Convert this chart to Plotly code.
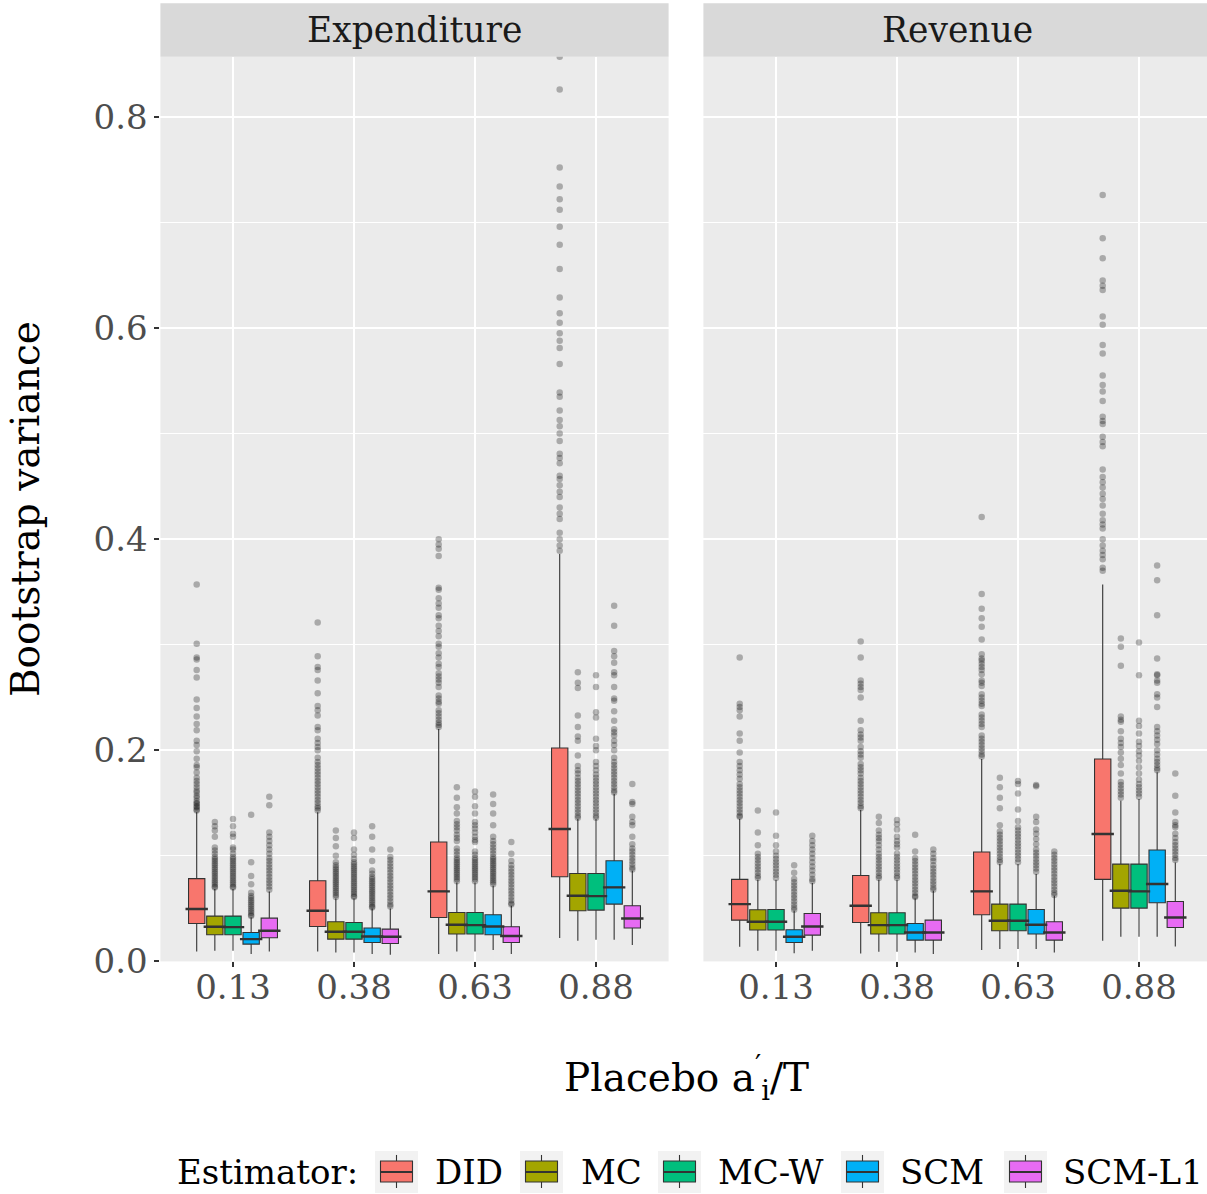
import plotly.graph_objects as go

# ---------------- data ----------------
categories = ["0.13", "0.38", "0.63", "0.88"]
estimators = ["DID", "MC", "MC-W", "SCM", "SCM-L1"]
colors = ["#F8766D", "#A3A500", "#00BF7D", "#00B0F6", "#E76BF3"]
panels = ["Expenditure", "Revenue"]

# rows = estimators, cols = categories
exp_q1 = [[0.0359, 0.0331, 0.0416, 0.0802],
          [0.0252, 0.0211, 0.0259, 0.0480],
          [0.0252, 0.0211, 0.0259, 0.0486],
          [0.0164, 0.0179, 0.0252, 0.0543],
          [0.0224, 0.0170, 0.0179, 0.0316]]
exp_med = [[0.0496, 0.0480, 0.0663, 0.1254],
           [0.0328, 0.0281, 0.0347, 0.0622],
           [0.0325, 0.0281, 0.0344, 0.0618],
           [0.0211, 0.0236, 0.0331, 0.0701],
           [0.0290, 0.0233, 0.0240, 0.0407]]
exp_q3 = [[0.0784, 0.0764, 0.1131, 0.2022],
          [0.0429, 0.0375, 0.0464, 0.0833],
          [0.0429, 0.0369, 0.0464, 0.0833],
          [0.0274, 0.0316, 0.0442, 0.0954],
          [0.0410, 0.0306, 0.0328, 0.0527]]
exp_lo = [[0.0094, 0.0094, 0.0069, 0.0221],
          [0.0100, 0.0084, 0.0094, 0.0195],
          [0.0100, 0.0084, 0.0094, 0.0205],
          [0.0069, 0.0069, 0.0107, 0.0205],
          [0.0094, 0.0063, 0.0069, 0.0155]]
exp_hi = [[0.1412, 0.1412, 0.2202, 0.3860],
          [0.0685, 0.0596, 0.0748, 0.1349],
          [0.0685, 0.0596, 0.0748, 0.1349],
          [0.0416, 0.0502, 0.0717, 0.1586],
          [0.0663, 0.0502, 0.0527, 0.0859]]

rev_q1 = [[0.0391, 0.0369, 0.0442, 0.0777],
          [0.0297, 0.0259, 0.0290, 0.0505],
          [0.0297, 0.0259, 0.0290, 0.0505],
          [0.0179, 0.0202, 0.0259, 0.0555],
          [0.0249, 0.0202, 0.0202, 0.0321]]
rev_med = [[0.0543, 0.0527, 0.0663, 0.1207],
           [0.0375, 0.0344, 0.0385, 0.0669],
           [0.0375, 0.0344, 0.0385, 0.0663],
           [0.0233, 0.0274, 0.0347, 0.0733],
           [0.0331, 0.0274, 0.0274, 0.0416]]
rev_q3 = [[0.0777, 0.0814, 0.1036, 0.1918],
          [0.0489, 0.0461, 0.0543, 0.0922],
          [0.0492, 0.0461, 0.0543, 0.0922],
          [0.0300, 0.0359, 0.0492, 0.1055],
          [0.0454, 0.0391, 0.0375, 0.0568]]
rev_lo = [[0.0138, 0.0075, 0.0107, 0.0195],
          [0.0100, 0.0091, 0.0117, 0.0233],
          [0.0100, 0.0091, 0.0117, 0.0233],
          [0.0078, 0.0084, 0.0117, 0.0233],
          [0.0100, 0.0069, 0.0084, 0.0141]]
rev_hi = [[0.1349, 0.1434, 0.1918, 0.3570],
          [0.0774, 0.0774, 0.0922, 0.1523],
          [0.0774, 0.0774, 0.0922, 0.1539],
          [0.0480, 0.0596, 0.0828, 0.1791],
          [0.0742, 0.0669, 0.0622, 0.0938]]

# outliers: per estimator, per category
exp_out_did = [
    [0.357, 0.301, 0.288, 0.286, 0.276, 0.269, 0.248, 0.240, 0.232, 0.225, 0.219, 0.209, 0.205, 0.199, 0.192, 0.186, 0.184,
     0.179, 0.174, 0.171, 0.168, 0.165, 0.162, 0.160, 0.157, 0.155, 0.152, 0.150, 0.149, 0.147, 0.146, 0.144, 0.143],
    [0.321, 0.289, 0.279, 0.276, 0.266, 0.254, 0.242, 0.238, 0.233, 0.222, 0.219, 0.211, 0.207, 0.203, 0.200, 0.193, 0.189,
     0.186, 0.183, 0.180, 0.177, 0.174, 0.171, 0.168, 0.165, 0.162, 0.159, 0.156, 0.153, 0.150, 0.147, 0.145, 0.143],
    [0.400, 0.395, 0.391, 0.384, 0.354, 0.352, 0.344, 0.339, 0.335, 0.328, 0.325, 0.318, 0.313, 0.308, 0.301, 0.298, 0.292,
     0.288, 0.282, 0.279, 0.273, 0.270, 0.267, 0.264, 0.260, 0.252, 0.249, 0.246, 0.244, 0.238, 0.235, 0.232, 0.229, 0.226,
     0.224, 0.222],
    [0.857, 0.826, 0.752, 0.734, 0.722, 0.712, 0.696, 0.679, 0.656, 0.629, 0.614, 0.605, 0.595, 0.588, 0.581, 0.566, 0.539,
     0.535, 0.522, 0.513, 0.507, 0.500, 0.493, 0.481, 0.477, 0.472, 0.460, 0.457, 0.451, 0.445, 0.440, 0.430, 0.424, 0.419,
     0.406, 0.400, 0.394, 0.389]]
exp_out_mc = [
    [0.132, 0.128, 0.124, 0.118, 0.108, 0.105, 0.102, 0.099, 0.097, 0.095, 0.093, 0.091, 0.089, 0.087, 0.085, 0.083, 0.081,
     0.079, 0.077, 0.075, 0.073, 0.071, 0.070],
    [0.124, 0.117, 0.109, 0.100, 0.094, 0.091, 0.089, 0.087, 0.085, 0.083, 0.081, 0.079, 0.077, 0.075, 0.073, 0.071, 0.069,
     0.067, 0.065, 0.063, 0.061],
    [0.165, 0.155, 0.146, 0.140, 0.133, 0.130, 0.127, 0.124, 0.120, 0.117, 0.114, 0.107, 0.104, 0.101, 0.098, 0.096, 0.094,
     0.092, 0.090, 0.088, 0.086, 0.084, 0.082, 0.080, 0.078, 0.076],
    [0.274, 0.264, 0.259, 0.233, 0.222, 0.213, 0.209, 0.195, 0.185, 0.181, 0.178, 0.174, 0.171, 0.168, 0.165, 0.162, 0.159,
     0.156, 0.153, 0.150, 0.147, 0.144, 0.141, 0.138, 0.136]]
exp_out_mcw = [
    [0.135, 0.128, 0.121, 0.118, 0.108, 0.106, 0.102, 0.099, 0.097, 0.095, 0.093, 0.091, 0.089, 0.087, 0.085, 0.083, 0.081,
     0.079, 0.077, 0.075, 0.073, 0.071, 0.070],
    [0.122, 0.117, 0.106, 0.101, 0.097, 0.094, 0.092, 0.090, 0.088, 0.086, 0.084, 0.082, 0.080, 0.078, 0.076, 0.074, 0.072,
     0.070, 0.068, 0.066, 0.064, 0.062, 0.061],
    [0.161, 0.156, 0.147, 0.140, 0.132, 0.129, 0.126, 0.122, 0.118, 0.115, 0.113, 0.104, 0.101, 0.098, 0.096, 0.094, 0.092,
     0.090, 0.088, 0.086, 0.084, 0.082, 0.080, 0.078, 0.076],
    [0.271, 0.260, 0.236, 0.231, 0.211, 0.204, 0.200, 0.189, 0.185, 0.181, 0.177, 0.174, 0.171, 0.168, 0.165, 0.162, 0.159,
     0.156, 0.153, 0.150, 0.147, 0.144, 0.141, 0.138, 0.136]]
exp_out_scm = [
    [0.139, 0.094, 0.081, 0.073, 0.065, 0.062, 0.060, 0.058, 0.056, 0.054, 0.052, 0.050, 0.048, 0.046, 0.044, 0.043],
    [0.128, 0.118, 0.106, 0.095, 0.086, 0.083, 0.080, 0.078, 0.076, 0.074, 0.072, 0.070, 0.068, 0.066, 0.064, 0.062, 0.060,
     0.058, 0.056, 0.054, 0.052, 0.051],
    [0.158, 0.149, 0.140, 0.129, 0.118, 0.114, 0.111, 0.108, 0.105, 0.102, 0.099, 0.097, 0.095, 0.093, 0.091, 0.089, 0.087,
     0.085, 0.083, 0.081, 0.079, 0.077, 0.075, 0.073],
    [0.337, 0.318, 0.294, 0.289, 0.283, 0.274, 0.271, 0.260, 0.249, 0.247, 0.237, 0.228, 0.220, 0.217, 0.214, 0.209, 0.205,
     0.200, 0.193, 0.189, 0.186, 0.183, 0.180, 0.177, 0.174, 0.171, 0.168, 0.165, 0.162, 0.160]]
exp_out_scml1 = [
    [0.156, 0.148, 0.122, 0.118, 0.114, 0.110, 0.106, 0.102, 0.098, 0.095, 0.092, 0.089, 0.086, 0.083, 0.080, 0.077, 0.074,
     0.071, 0.068],
    [0.106, 0.099, 0.096, 0.093, 0.090, 0.087, 0.084, 0.081, 0.078, 0.075, 0.072, 0.069, 0.066, 0.063, 0.060, 0.057, 0.054,
     0.052],
    [0.113, 0.102, 0.095, 0.091, 0.088, 0.085, 0.082, 0.079, 0.076, 0.073, 0.070, 0.067, 0.064, 0.061, 0.058, 0.055, 0.054],
    [0.168, 0.151, 0.149, 0.137, 0.132, 0.129, 0.118, 0.111, 0.107, 0.104, 0.101, 0.098, 0.095, 0.092, 0.089, 0.087]]

rev_out_did = [
    [0.288, 0.244, 0.241, 0.238, 0.232, 0.216, 0.209, 0.198, 0.189, 0.185, 0.181, 0.177, 0.173, 0.168, 0.165, 0.162, 0.159,
     0.156, 0.153, 0.150, 0.147, 0.144, 0.141, 0.138, 0.137],
    [0.303, 0.288, 0.266, 0.263, 0.260, 0.257, 0.250, 0.228, 0.219, 0.215, 0.212, 0.209, 0.203, 0.199, 0.196, 0.193, 0.187,
     0.184, 0.181, 0.178, 0.174, 0.171, 0.168, 0.165, 0.162, 0.159, 0.156, 0.153, 0.150, 0.147, 0.145],
    [0.421, 0.348, 0.334, 0.325, 0.317, 0.305, 0.291, 0.287, 0.285, 0.282, 0.279, 0.276, 0.272, 0.266, 0.264, 0.261, 0.253,
     0.250, 0.247, 0.244, 0.242, 0.234, 0.231, 0.228, 0.225, 0.222, 0.214, 0.211, 0.208, 0.205, 0.202, 0.199, 0.196, 0.194],
    [0.726, 0.685, 0.666, 0.645, 0.640, 0.636, 0.611, 0.603, 0.584, 0.576, 0.555, 0.546, 0.540, 0.531, 0.516, 0.512, 0.509,
     0.497, 0.492, 0.488, 0.466, 0.459, 0.454, 0.449, 0.443, 0.438, 0.432, 0.424, 0.418, 0.414, 0.410, 0.400, 0.394, 0.389,
     0.385, 0.381, 0.373, 0.370]]
rev_out_mc = [
    [0.143, 0.122, 0.110, 0.102, 0.099, 0.096, 0.093, 0.090, 0.087, 0.084, 0.081, 0.079],
    [0.137, 0.131, 0.124, 0.120, 0.117, 0.114, 0.110, 0.106, 0.102, 0.099, 0.096, 0.093, 0.090, 0.087, 0.084, 0.081, 0.079],
    [0.174, 0.165, 0.155, 0.145, 0.129, 0.123, 0.120, 0.117, 0.114, 0.111, 0.108, 0.105, 0.102, 0.099, 0.096, 0.094],
    [0.306, 0.298, 0.280, 0.232, 0.229, 0.227, 0.218, 0.211, 0.207, 0.203, 0.198, 0.192, 0.186, 0.178, 0.170, 0.167, 0.164,
     0.161, 0.158, 0.155]]
rev_out_mcw = [
    [0.141, 0.119, 0.110, 0.104, 0.100, 0.097, 0.094, 0.091, 0.088, 0.085, 0.082, 0.079],
    [0.134, 0.130, 0.125, 0.118, 0.114, 0.111, 0.108, 0.102, 0.099, 0.096, 0.093, 0.090, 0.087, 0.084, 0.081, 0.079],
    [0.171, 0.168, 0.159, 0.144, 0.133, 0.127, 0.124, 0.121, 0.118, 0.115, 0.112, 0.109, 0.106, 0.103, 0.100, 0.097, 0.094],
    [0.302, 0.271, 0.228, 0.223, 0.216, 0.208, 0.204, 0.199, 0.195, 0.190, 0.184, 0.178, 0.172, 0.168, 0.165, 0.162, 0.159,
     0.156]]
rev_out_scm = [
    [0.091, 0.084, 0.078, 0.075, 0.072, 0.069, 0.066, 0.063, 0.060, 0.057, 0.054, 0.051, 0.049],
    [0.120, 0.104, 0.098, 0.095, 0.092, 0.089, 0.086, 0.083, 0.080, 0.077, 0.074, 0.071, 0.068, 0.065, 0.062, 0.061],
    [0.167, 0.166, 0.137, 0.132, 0.125, 0.121, 0.116, 0.111, 0.106, 0.103, 0.100, 0.097, 0.094, 0.091, 0.088, 0.085],
    [0.375, 0.361, 0.328, 0.287, 0.272, 0.271, 0.266, 0.264, 0.253, 0.250, 0.241, 0.222, 0.218, 0.214, 0.210, 0.206, 0.200,
     0.196, 0.192, 0.189, 0.186, 0.183, 0.181]]
rev_out_scml1 = [
    [0.119, 0.114, 0.110, 0.106, 0.102, 0.098, 0.094, 0.090, 0.086, 0.082, 0.078, 0.076],
    [0.106, 0.102, 0.098, 0.095, 0.091, 0.088, 0.085, 0.082, 0.079, 0.076, 0.073, 0.070, 0.068],
    [0.104, 0.101, 0.098, 0.095, 0.092, 0.089, 0.086, 0.083, 0.080, 0.077, 0.074, 0.071, 0.068, 0.065, 0.063],
    [0.178, 0.157, 0.141, 0.132, 0.129, 0.127, 0.121, 0.117, 0.113, 0.110, 0.107, 0.104, 0.101, 0.098, 0.096]]

# ---------------- figure ----------------
FONT = "DejaVu Serif"
W, H = 1207, 1194          # target picture size (layout coordinates below)
FIG_H = 1215               # page is photographed slightly squeezed vertically
SLOT = 0.15
BOXW = 0.135

panel_stats = [
    (exp_q1, exp_med, exp_q3, exp_lo, exp_hi,
     [exp_out_did, exp_out_mc, exp_out_mcw, exp_out_scm, exp_out_scml1]),
    (rev_q1, rev_med, rev_q3, rev_lo, rev_hi,
     [rev_out_did, rev_out_mc, rev_out_mcw, rev_out_scm, rev_out_scml1]),
]

fig = go.Figure()
cat_idx = list(range(len(categories)))

for p, (q1, med, q3, lo, hi, outs) in enumerate(panel_stats):
    xa = "x" if p == 0 else "x2"
    ya = "y" if p == 0 else "y2"
    for j, est in enumerate(estimators):
        off = (j - (len(estimators) - 1) / 2) * SLOT
        xs = [i + off for i in cat_idx]
        fig.add_trace(go.Box(
            x=xs, q1=q1[j], median=med[j], q3=q3[j],
            lowerfence=lo[j], upperfence=hi[j],
            width=BOXW, whiskerwidth=0, boxpoints=False,
            fillcolor=colors[j], line=dict(color="#333333", width=1.1),
            name=est, showlegend=False,
            xaxis=xa, yaxis=ya, hoverinfo="skip",
        ))
        # thicker median line (ggplot fatten)
        fig.add_trace(go.Scatter(
            x=xs, y=med[j], mode="markers",
            marker=dict(symbol="line-ew", size=16,
                        line=dict(color="#333333", width=2.4)),
            showlegend=False, xaxis=xa, yaxis=ya, hoverinfo="skip",
        ))
        ox, oy = [], []
        for i in cat_idx:
            for v in outs[j][i]:
                ox.append(i + off)
                oy.append(v)
        fig.add_trace(go.Scatter(
            x=ox, y=oy, mode="markers",
            marker=dict(size=6.5, color="rgba(0,0,0,0.28)", line=dict(width=0)),
            showlegend=False, xaxis=xa, yaxis=ya, hoverinfo="skip",
        ))

# panel geometry (pixels)
L1, R1 = 160.4, 668.6
L2, R2 = 703.4, 1207.0
TOP, BOT = 56.7, 960.6
STRIP_TOP = 3.3
unit = (R1 - L1) / 4.2


def px(v):
    return v / W


def py(v):
    return 1 - v / H


tick_font = dict(family=FONT, size=34, color="#4D4D4D")
axis_common = dict(
    showline=False, zeroline=False, ticks="outside", ticklen=5,
    tickwidth=1.6, tickcolor="#333333", tickfont=tick_font,
    gridcolor="#FFFFFF", gridwidth=2.2,
)

fig.update_layout(
    width=W, height=FIG_H, autosize=False,
    margin=dict(l=0, r=0, t=0, b=0),
    paper_bgcolor="white", plot_bgcolor="#EBEBEB",
    font=dict(family=FONT, color="#000000"),
    boxmode="overlay", showlegend=False,
    xaxis=dict(domain=[px(L1), px(R1)], range=[-0.6, 3.6],
               tickvals=cat_idx, ticktext=categories,
               ticklabelstandoff=-9, **axis_common),
    xaxis2=dict(domain=[px(L2), px(R2)],
                range=[-0.6, -0.6 + (R2 - L2) / unit],
                tickvals=cat_idx, ticktext=categories, anchor="y2",
                ticklabelstandoff=-9, **axis_common),
    yaxis=dict(domain=[py(BOT), py(TOP)], range=[0, 0.857],
               tickvals=[0, 0.2, 0.4, 0.6, 0.8],
               ticktext=["0.0", "0.2", "0.4", "0.6", "0.8"],
               minor=dict(tickvals=[0.1, 0.3, 0.5, 0.7], showgrid=True,
                          gridcolor="#FFFFFF", gridwidth=1.1, ticks=""),
               **axis_common),
    yaxis2=dict(domain=[py(BOT), py(TOP)], range=[0, 0.857], matches="y",
                anchor="x2", showticklabels=False, ticks="",
                tickvals=[0, 0.2, 0.4, 0.6, 0.8],
                minor=dict(tickvals=[0.1, 0.3, 0.5, 0.7], showgrid=True,
                           gridcolor="#FFFFFF", gridwidth=1.1, ticks=""),
                showline=False, zeroline=False,
                gridcolor="#FFFFFF", gridwidth=2.2),
)

shapes = []
annotations = []

# strips
for (l, r), name in zip([(L1, R1), (L2, R2)], panels):
    shapes.append(dict(type="rect", xref="paper", yref="paper",
                       x0=px(l), x1=px(r), y0=py(TOP), y1=py(STRIP_TOP),
                       fillcolor="#D9D9D9", line=dict(width=0), layer="below"))
    cx = (L1 + R1) / 2 if name == panels[0] else L2 + 2.1 * unit
    annotations.append(dict(text=name, xref="paper", yref="paper",
                            x=px(cx), y=py((TOP + STRIP_TOP) / 2),
                            xanchor="center", yanchor="middle", showarrow=False,
                            font=dict(family=FONT, size=34.5, color="#1A1A1A")))

# axis titles
annotations.append(dict(text="Bootstrap variance", xref="paper", yref="paper",
                        x=px(25), y=py((TOP + BOT) / 2), textangle=-90,
                        xanchor="center", yanchor="middle", showarrow=False,
                        font=dict(family=FONT, size=39, color="#000000")))
annotations.append(dict(text="Placebo a<sup>′</sup><sub>i</sub>/T", xref="paper", yref="paper",
                        x=px(686), y=py(1077), xanchor="center", yanchor="middle",
                        showarrow=False,
                        font=dict(family=FONT, size=39, color="#000000")))

# legend (ggplot style, bottom)
LEG_Y = 1171
leg_font = dict(family=FONT, size=34, color="#000000")
annotations.append(dict(text="Estimator:", xref="paper", yref="paper",
                        x=px(175), y=py(LEG_Y), xanchor="left", yanchor="middle",
                        showarrow=False, font=leg_font))
key_x = [375, 520, 658, 841, 1004]
lab_x = [433, 579, 716, 898, 1061]
for est, col, kx, lx in zip(estimators, colors, key_x, lab_x):
    cxk = kx + 21.5
    shapes.append(dict(type="rect", xref="paper", yref="paper",
                       x0=px(kx), x1=px(kx + 43), y0=py(1192), y1=py(1150),
                       fillcolor="#F2F2F2", line=dict(width=0)))
    shapes.append(dict(type="line", xref="paper", yref="paper",
                       x0=px(cxk), x1=px(cxk), y0=py(1187), y1=py(1154),
                       line=dict(color="#333333", width=1.1)))
    shapes.append(dict(type="rect", xref="paper", yref="paper",
                       x0=px(cxk - 16), x1=px(cxk + 16), y0=py(1181), y1=py(1160),
                       fillcolor=col, line=dict(color="#333333", width=1.1)))
    shapes.append(dict(type="line", xref="paper", yref="paper",
                       x0=px(cxk - 16), x1=px(cxk + 16), y0=py(LEG_Y), y1=py(LEG_Y),
                       line=dict(color="#333333", width=2.2)))
    annotations.append(dict(text=est, xref="paper", yref="paper",
                            x=px(lx), y=py(LEG_Y), xanchor="left", yanchor="middle",
                            showarrow=False, font=leg_font))

fig.update_layout(shapes=shapes, annotations=annotations)
fig.write_html(
    "out.html",
    config={"displayModeBar": False, "responsive": False},
    post_script=(
        "document.body.style.margin='0';document.body.style.padding='0';"
    ),
)
